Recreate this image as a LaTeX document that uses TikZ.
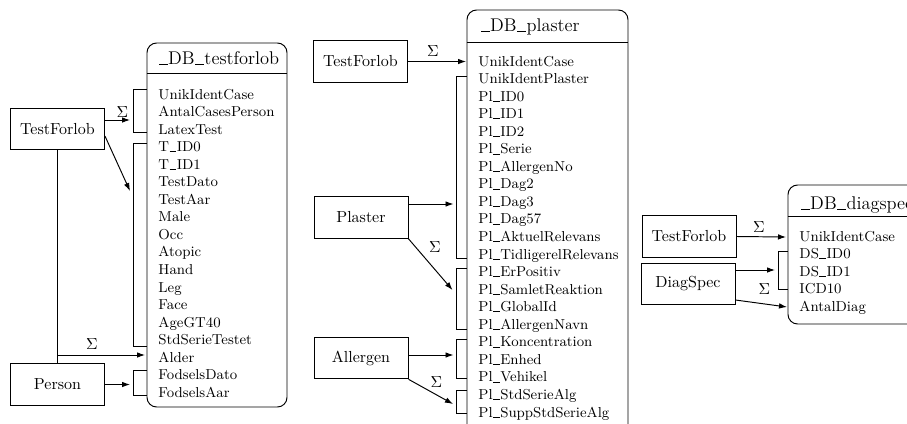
\documentclass[tikz,border=0pt]{standalone}
\usetikzlibrary{arrows.meta,fit}
% underscore drawn as a rule sitting on the baseline
\newcommand\usc{\leavevmode\kern.03em\rule[-0.25pt]{0.47em}{0.4pt}\kern.03em}

\begin{document}
\begin{tikzpicture}[x=0.625pt,y=-0.625pt, line width=0.6pt,
  entity/.style={draw, minimum width=58.75pt, minimum height=26pt, inner sep=0pt},
  tbl/.style={draw, rounded corners=6pt, inner sep=0pt},
  field/.style={anchor=base west, inner sep=0pt, font=\small},
  title/.style={anchor=base west, inner sep=0pt, font=\fontsize{11.5}{14}\selectfont},
  arr/.style={-{Latex[length=5pt,width=3.5pt]}},
  sig/.style={inner sep=0pt},
]
\clip (0,0) rectangle (907,423);

% ---------------- _DB_testforlob ----------------
\coordinate (tfnw) at (147,43);
\coordinate (tfse) at (287,407);
\node[tbl, fit=(tfnw)(tfse)] (tf) {};
\coordinate (tfh) at (200,73);
\draw (tf.west |- tfh) -- (tf.east |- tfh);
\node[title] (tf-title) at (158,64) {\usc DB\usc testforlob};
\foreach \t [count=\i] in {UnikIdentCase, AntalCasesPerson, LatexTest,
    T\usc ID0, T\usc ID1, TestDato, TestAar, Male, Occ, Atopic, Hand, Leg,
    Face, AgeGT40, StdSerieTestet, Alder, FodselsDato, FodselsAar}
  \node[field] (tf-\i) at (158,{99+17.55*(\i-1)}) {\t};
\foreach \n/\a/\b in {1/89/132, 2/143/346, 3/370/395} {
  \coordinate (tfb\n t) at (133,\a);
  \coordinate (tfb\n b) at (133,\b);
  \draw (tfb\n t -| tf.west) -- (tfb\n t) -- (tfb\n b) -- (tfb\n b -| tf.west);
}

\node[entity] (tfA) at (57.5,129) {TestForlob};
\node[entity] (person) at (57.5,384.5) {Person};

\coordinate (tfa1) at (130,120);
\draw[arr] (tfa1 -| tfA.east) -- (tfa1);
\node[sig] (s1) at (122.5,112) {$\Sigma$};
\coordinate (tfa2) at (130,191);
\draw[arr] ([yshift=-4.4pt]tfA.east) -- (tfa2);

\draw (tfA.south) -- (person.north);
\coordinate (alder) at (145,355);
\draw[arr] (tfA.south |- alder) -- (alder);
\node[sig] (s2) at (92,344) {$\Sigma$};
\coordinate (psa) at (130,384.5);
\draw[arr] (person.east) -- (psa);

% ---------------- _DB_plaster ----------------
\coordinate (plnw) at (467,10);
\coordinate (plse) at (628,440);
\node[tbl, fit=(plnw)(plse)] (pl) {};
\coordinate (plh) at (500,42);
\draw (pl.west |- plh) -- (pl.east |- plh);
\node[title] (pl-title) at (480,31.5) {\usc DB\usc plaster};
\foreach \t [count=\i] in {UnikIdentCase, UnikIdentPlaster, Pl\usc ID0,
    Pl\usc ID1, Pl\usc ID2, Pl\usc Serie, Pl\usc AllergenNo, Pl\usc Dag2,
    Pl\usc Dag3, Pl\usc Dag57, Pl\usc AktuelRelevans, Pl\usc TidligerelRelevans,
    Pl\usc ErPositiv, Pl\usc SamletReaktion, Pl\usc GlobalId, Pl\usc AllergenNavn,
    Pl\usc Koncentration, Pl\usc Enhed, Pl\usc Vehikel, Pl\usc StdSerieAlg,
    Pl\usc SuppStdSerieAlg}
  \node[field] (pl-\i) at (478,{66+17.55*(\i-1)}) {\t};
\foreach \n/\a/\b in {1/76/258, 2/268/329.5, 3/339/378.5, 4/390/413} {
  \coordinate (plb\n t) at (456,\a);
  \coordinate (plb\n b) at (456,\b);
  \draw (plb\n t -| pl.west) -- (plb\n t) -- (plb\n b) -- (plb\n b -| pl.west);
}

\node[entity] (plTF) at (360.5,61.5) {TestForlob};
\node[entity] (plaster) at (361,217.5) {Plaster};
\node[entity] (allergen) at (361,358) {Allergen};

\coordinate (pa0) at (466,61.5);
\draw[arr] (plTF.east) -- (pa0);
\node[sig] (s3) at (433,51) {$\Sigma$};
\coordinate (pa1) at (453.5,204);
\draw[arr] (pa1 -| plaster.east) -- (pa1);
\coordinate (pa2) at (452.5,290);
\draw[arr] (plaster.south east) -- (pa2);
\node[sig] (s4) at (435,247) {$\Sigma$};
\coordinate (pa3) at (453.5,355);
\draw[arr] (pa3 -| allergen.east) -- (pa3);
\coordinate (pa4) at (453,404);
\draw[arr] (allergen.south east) -- (pa4);
\node[sig] (s5) at (436.5,382) {$\Sigma$};

% ---------------- _DB_diagspec ----------------
\coordinate (dsnw) at (788,185);
\coordinate (dsse) at (945,324);
\node[tbl, fit=(dsnw)(dsse)] (ds) {};
\coordinate (dsh) at (820,216);
\draw (ds.west |- dsh) -- (ds.east |- dsh);
\node[title] (ds-title) at (800,209) {\usc DB\usc diagspec};
\foreach \t [count=\i] in {UnikIdentCase, DS\usc ID0, DS\usc ID1, ICD10, AntalDiag}
  \node[field] (ds-\i) at (799,{241+17.55*(\i-1)}) {\t};
\coordinate (dsbt) at (778,251);
\coordinate (dsbb) at (778,289);
\draw (dsbt -| ds.west) -- (dsbt) -- (dsbb) -- (dsbb -| ds.west);

\node[entity] (dsTF) at (689,236.5) {TestForlob};
\node[entity] (diagspec) at (688,284) {DiagSpec};

\coordinate (da0) at (786,237);
\draw[arr] (dsTF.east) -- (da0);
\node[sig] (s6) at (759,227) {$\Sigma$};
\coordinate (da1) at (775,270);
\draw[arr] (da1 -| diagspec.east) -- (da1);
\coordinate (da2) at (787,307);
\draw[arr] ([yshift=-10pt]diagspec.east) -- (da2);
\node[sig] (s7) at (764.5,289.5) {$\Sigma$};
\end{tikzpicture}
\end{document}
